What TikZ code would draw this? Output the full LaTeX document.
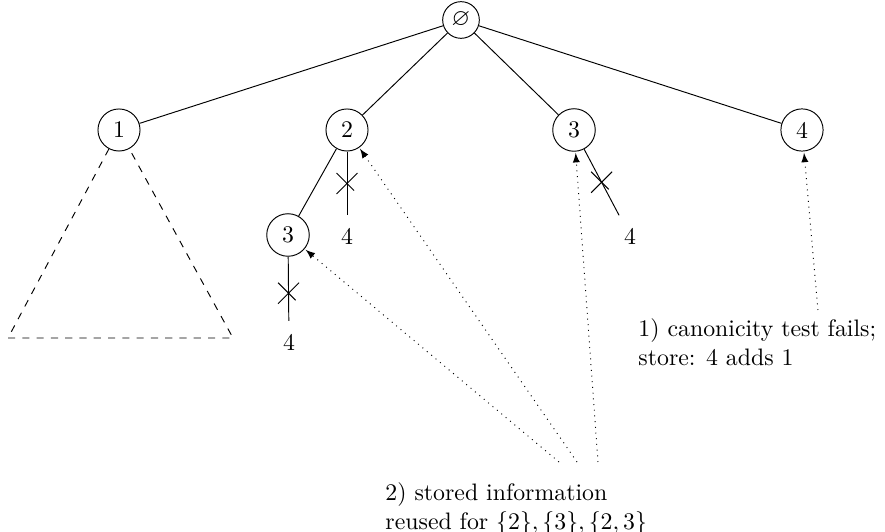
\documentclass[tikz,border=0pt]{standalone}
\usepackage{amssymb}
\usetikzlibrary{shapes.misc,arrows}
\begin{document}
\begin{tikzpicture}[x=0.42pt,y=-0.42pt,
  tn/.style={circle,draw,inner sep=3.33pt},
  rootn/.style={circle,draw,inner sep=1pt,minimum size=15.4pt},
  lf/.style={inner sep=3.33pt},
  crossx/.style={cross out,draw,minimum size=8.4pt,inner sep=0pt},
  note/.style={dotted,-latex,shorten >=0.5pt}]
\useasboundingbox (0,0) rectangle (885,532);
\node[rootn] (r) at (461,20) {$\varnothing$};
\node[tn] (n1) at (119,130) {1};
\node[tn] (n2) at (347,130) {2};
\node[tn] (n3) at (574,130) {3};
\node[tn] (n4) at (802,130) {4};
\node[tn] (c3) at (288,235) {3};
\node[lf] (f2) at (347,236) {4};
\node[lf] (f3) at (289,342) {4};
\node[lf] (f4) at (630,236) {4};
\coordinate (tl) at (8,338);
\coordinate (tr) at (233,338);
\draw (r) -- (n1);
\draw (r) -- (n2);
\draw (r) -- (n3);
\draw (r) -- (n4);
\draw (n2) -- (c3);
\draw[shorten >=2pt] (n2) -- node[crossx,pos=0.47]{} (f2);
\draw[shorten >=2pt] (c3) -- node[crossx,pos=0.53]{} (f3);
\draw[shorten >=2pt] (n3) -- node[crossx,pos=0.47]{} (f4);
\draw[dashed] (n1) -- (tl) -- (tr) -- (n1);
\node[anchor=west,inner sep=0pt,align=left] (t1) at (638,342) {1) canonicity test fails;\\store: 4 adds 1};
\node[anchor=west,inner sep=0pt,align=left] (t2) at (385,509) {2) stored information\\reused for $\{2\}, \{3\}, \{2,3\}$};
\coordinate (s1) at (818,310);
\coordinate (s2) at (559,462);
\coordinate (s3) at (577,462);
\coordinate (s4) at (598,462);
\draw[note] (s1) -- (n4);
\draw[note] (s2) -- (c3);
\draw[note] (s3) -- (n2);
\draw[note] (s4) -- (n3);
\end{tikzpicture}
\end{document}
